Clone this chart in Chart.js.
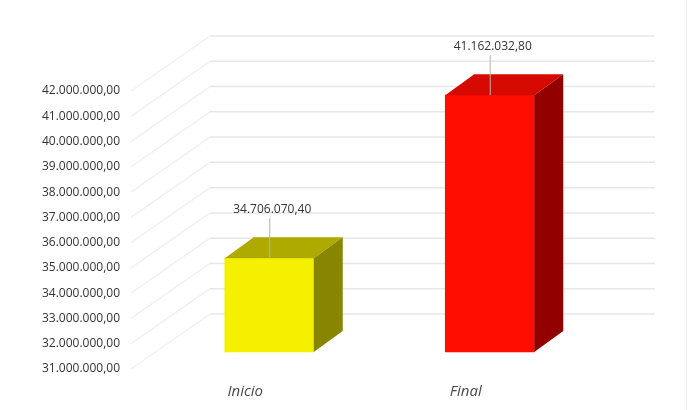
<!DOCTYPE html>
<html>
<head>
<meta charset="utf-8">
<script src="https://cdn.jsdelivr.net/npm/chart.js@4.4.1/dist/chart.umd.min.js"></script>
<style>
  html, body { margin: 0; padding: 0; background: #fff; }
  #wrap { width: 693px; height: 410px; position: relative; }
</style>
</head>
<body>
<div id="wrap"><canvas id="inicioFinalChart"></canvas></div>
<script>
    // datos del grafico
    const categorias = ['Inicio', 'Final'];
    const valores = [34706070.40, 41162032.80];
    const coresFrente = ['#f4f000', '#ff0e00'];
    const coresTopo = ['#aeaa00', '#d60a00'];
    const coresLado = ['#888600', '#930000'];
    const eixoMin = 31000000;
    const eixoMax = 42000000;
    const eixoPasso = 1000000;

    // formato 34.706.070,40
    function formatoBR(v) {
        const partes = v.toFixed(2).split('.');
        const inteiro = partes[0].replace(/\B(?=(\d{3})+(?!\d))/g, '.');
        return inteiro + ',' + partes[1];
    }

    // profundidade do efeito 3d
    const frenteDy = -17;        // plano frontal das barras
    const barraDx = 29, barraDy = -21;
    const paredeDx = 75, paredeDy = -55;

    const bar3d = {
        id: 'bar3d',
        beforeDatasetsDraw(chart) {
            const ctx = chart.ctx;
            const area = chart.chartArea;
            const y = chart.scales.y;
            ctx.save();
            ctx.lineWidth = 1.5;
            y.ticks.forEach(t => {
                const py = y.getPixelForValue(t.value);
                // parede lateral
                ctx.strokeStyle = '#f1f1f1';
                ctx.beginPath();
                ctx.moveTo(area.left - 28, py);
                ctx.lineTo(area.left + 51, py + paredeDy);
                ctx.stroke();
                // parede do fundo
                ctx.strokeStyle = '#e7e7e7';
                ctx.beginPath();
                ctx.moveTo(area.left + 51, py + paredeDy);
                ctx.lineTo(area.right + 55, py + paredeDy);
                ctx.stroke();
            });
            ctx.restore();

            // barras no plano frontal
            ctx.save();
            ctx.translate(0, frenteDy);
        },
        afterDatasetsDraw(chart) {
            const ctx = chart.ctx;
            const meta = chart.getDatasetMeta(0);
            meta.data.forEach((bar, i) => {
                const p = bar.getProps(['x', 'y', 'base', 'width'], true);
                const l = p.x - p.width / 2, r = p.x + p.width / 2;

                // topo
                ctx.fillStyle = coresTopo[i];
                ctx.beginPath();
                ctx.moveTo(l, p.y);
                ctx.lineTo(l + barraDx, p.y + barraDy);
                ctx.lineTo(r + barraDx, p.y + barraDy);
                ctx.lineTo(r, p.y);
                ctx.closePath();
                ctx.fill();

                // lado
                ctx.fillStyle = coresLado[i];
                ctx.beginPath();
                ctx.moveTo(r, p.y);
                ctx.lineTo(r + barraDx, p.y + barraDy);
                ctx.lineTo(r + barraDx, p.base + barraDy);
                ctx.lineTo(r, p.base);
                ctx.closePath();
                ctx.fill();

                // linha guia e rotulo
                ctx.strokeStyle = '#b9b2a2';
                ctx.lineWidth = 1;
                ctx.beginPath();
                ctx.moveTo(p.x + 0.5, p.y);
                ctx.lineTo(p.x + 0.5, p.y - 40);
                ctx.stroke();

                ctx.fillStyle = '#333';
                ctx.font = '12px "Open Sans"';
                ctx.textAlign = 'center';
                ctx.textBaseline = 'middle';
                ctx.fillText(formatoBR(valores[i]), p.x + 3, p.y - 49);
            });
            ctx.restore();

            // borda da imagem
            ctx.save();
            ctx.strokeStyle = '#eeeeee';
            ctx.lineWidth = 1;
            ctx.beginPath();
            ctx.moveTo(686.5, 0);
            ctx.lineTo(686.5, 410);
            ctx.stroke();
            ctx.restore();
        }
    };

    new Chart(document.getElementById('inicioFinalChart').getContext('2d'), {
        type: 'bar',
        data: {
            labels: categorias,
            datasets: [{
                // barras flutuantes a partir do minimo do eixo
                data: valores.map(v => [eixoMin, v]),
                backgroundColor: coresFrente,
                borderWidth: 0,
                borderSkipped: false,
                barThickness: 89,
                clip: false
            }]
        },
        options: {
            responsive: true,
            maintainAspectRatio: false,
            animation: false,
            layout: {
                padding: { left: 0, right: 93, top: 91, bottom: 10 }
            },
            plugins: {
                legend: { display: false },
                tooltip: { enabled: false }
            },
            scales: {
                x: {
                    grid: { display: false, drawTicks: false },
                    border: { display: false },
                    afterFit: function (scale) { scale.height = 31; },
                    ticks: {
                        labelOffset: -24,
                        padding: 14,
                        color: '#4a4a4a',
                        font: { family: '"Open Sans"', size: 15, style: 'italic' }
                    }
                },
                y: {
                    min: eixoMin,
                    max: eixoMax,
                    grid: { display: false, drawTicks: false },
                    border: { display: false },
                    afterFit: function (scale) {
                        scale.width = 159;
                        // sem folga extra em cima/embaixo por causa do padding dos rotulos
                        scale.paddingTop = 0;
                        scale.paddingBottom = 0;
                    },
                    ticks: {
                        stepSize: eixoPasso,
                        padding: 39,
                        color: '#333333',
                        font: { family: '"Open Sans"', size: 12 },
                        callback: v => formatoBR(v)
                    }
                }
            }
        },
        plugins: [bar3d]
    });
</script>
</body>
</html>
